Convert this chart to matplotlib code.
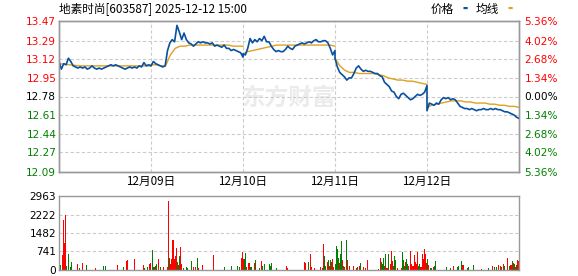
from matplotlib import pyplot as plt
import numpy as np

# price per day (5 trading days, evenly spaced samples over 240 min)
day1 = [13.10, 13.03, 13.08, 13.07, 13.13, 13.10, 13.06, 13.05, 13.04, 13.05,
        13.04, 13.05, 13.03, 13.04, 13.06, 13.04, 13.03, 13.04, 13.03, 13.04,
        13.05, 13.06, 13.07, 13.06, 13.07, 13.06, 13.05, 13.04, 13.03, 13.04,
        13.05, 13.04, 13.05, 13.04, 13.06, 13.05, 13.09, 13.06, 13.07, 13.06]
day2 = [13.06, 13.10, 13.08, 13.07, 13.06, 13.05, 13.06, 13.20, 13.27, 13.30,
        13.28, 13.43, 13.37, 13.30, 13.36, 13.30, 13.27, 13.26, 13.24, 13.26,
        13.28, 13.27, 13.28, 13.27, 13.27, 13.26, 13.27, 13.24, 13.25, 13.24,
        13.23, 13.25, 13.22, 13.22, 13.20, 13.21, 13.20, 13.19, 13.18, 13.14]
day3 = [13.17, 13.16, 13.22, 13.31, 13.27, 13.30, 13.28, 13.31, 13.29, 13.33,
        13.28, 13.28, 13.24, 13.21, 13.19, 13.20, 13.19, 13.19, 13.21, 13.24,
        13.22, 13.21, 13.24, 13.25, 13.26, 13.27, 13.26, 13.27, 13.28, 13.27,
        13.29, 13.30, 13.28, 13.28, 13.29, 13.29, 13.27, 13.22, 13.16, 13.20]
day4 = [13.13, 13.05, 13.00, 12.98, 12.96, 12.93, 12.95, 12.95, 12.99, 13.04,
        13.06, 13.03, 13.01, 13.02, 13.01, 13.01, 13.00, 12.99, 12.99, 12.97,
        12.96, 12.91, 12.89, 12.87, 12.83, 12.82, 12.78, 12.76, 12.80, 12.81,
        12.79, 12.77, 12.75, 12.76, 12.78, 12.80, 12.79, 12.80, 12.82, 12.88]
day5 = [12.65, 12.72, 12.71, 12.70, 12.72, 12.71, 12.75, 12.77, 12.76, 12.77,
        12.75, 12.76, 12.75, 12.72, 12.69, 12.68, 12.67, 12.67, 12.66, 12.67,
        12.66, 12.65, 12.66, 12.66, 12.67, 12.66, 12.66, 12.67, 12.66, 12.67,
        12.66, 12.66, 12.65, 12.64, 12.64, 12.63, 12.62, 12.61, 12.59, 12.58]

# average price per day
avg1 = [13.08, 13.07, 13.06, 13.06, 13.06, 13.06, 13.06, 13.06, 13.06, 13.06]
avg2 = [13.07, 13.07, 13.06, 13.06, 13.16, 13.22, 13.24, 13.24, 13.25, 13.25,
        13.25, 13.25, 13.25, 13.25, 13.25, 13.25, 13.25, 13.24, 13.24, 13.24]
avg3 = [13.17, 13.19, 13.20, 13.21, 13.22, 13.23, 13.24, 13.25, 13.25, 13.25,
        13.25, 13.25, 13.25, 13.25, 13.25, 13.25, 13.25, 13.25, 13.25, 13.24]
avg4 = [13.13, 13.06, 13.02, 13.00, 13.00, 12.99, 12.99, 12.99, 12.99, 12.98,
        12.97, 12.95, 12.94, 12.93, 12.93, 12.92, 12.92, 12.91, 12.90, 12.89]
avg5 = [12.68, 12.70, 12.71, 12.72, 12.73, 12.74, 12.74, 12.74, 12.73, 12.73,
        12.72, 12.72, 12.72, 12.71, 12.71, 12.70, 12.70, 12.69, 12.69, 12.68]

# volume bars: minute index, volume, up (1) / down (0)
vol_min = [0, 3, 8, 10, 13, 16, 18, 23, 29, 31, 47, 52, 60, 70, 94, 115, 120, 151, 167, 175,
           177, 196, 219, 222, 230, 235, 237, 243, 245, 248, 250, 253, 258, 263, 271, 282, 284, 287, 290, 292,
           295, 297, 300, 303, 305, 308, 310, 313, 316, 318, 323, 331, 334, 344, 350, 355, 360, 363, 373, 402,
           430, 449, 464, 470, 475, 477, 480, 483, 485, 488, 493, 496, 498, 501, 509, 511, 522, 527, 530, 535,
           548, 550, 553, 566, 592, 595,
           639, 642, 650, 655, 657, 665, 681, 686, 689, 691, 694, 699, 702, 704, 707, 710, 712, 715, 720, 723,
           725, 728, 730, 733, 736, 738, 741, 744, 749, 751, 757, 767, 775, 777, 783, 785, 793, 798, 804, 832,
           837, 840, 843, 845, 848, 850, 853, 856, 858, 864, 866, 869, 871, 874, 877, 882, 892, 895, 897, 900,
           903, 905, 908, 910, 916, 918, 921, 924, 926, 929, 931, 934, 937, 939, 942, 944, 947, 950, 952, 955,
           957, 960, 963, 968, 970, 976, 978, 981, 1010, 1020, 1028, 1038, 1041, 1049, 1051, 1054, 1064, 1067, 1080, 1101,
           1119, 1130, 1135, 1140, 1145, 1150, 1153, 1158, 1161, 1169, 1174, 1177, 1179, 1182, 1184, 1187, 1190, 1192, 1195, 1197]
vol_val = [432, 190, 594, 2011, 1066, 2214, 162, 660, 120, 324, 256, 80, 270, 190, 80, 150, 150, 190, 120, 350,
           390, 432, 190, 100, 120, 256, 283, 796, 120, 120, 162, 230, 432, 120, 120, 120, 2754, 486, 230, 432,
           1200, 1200, 432, 553, 864, 324, 220, 553, 930, 230, 80, 120, 100, 350, 120, 120, 486, 80, 190, 620,
           120, 150, 150, 120, 486, 730, 460, 432, 690, 120, 270, 270, 120, 120, 270, 390, 80, 350, 162, 230,
           256, 162, 270, 80, 150, 100,
           324, 270, 324, 660, 120, 80, 120, 80, 1040, 553, 162, 324, 390, 150, 390, 324, 432, 120, 256, 960,
           837, 486, 297, 634, 1160, 390, 162, 120, 1200, 390, 150, 150, 100, 120, 150, 270, 120, 80, 390, 60,
           486, 324, 230, 486, 150, 660, 80, 80, 634, 230, 756, 350, 150, 553, 390, 80, 80, 729, 390, 150,
           324, 459, 230, 150, 756, 256, 150, 150, 594, 324, 256, 730, 150, 230, 120, 120, 660, 459, 837, 634,
           270, 432, 190, 80, 80, 120, 150, 350, 120, 80, 150, 120, 150, 350, 190, 190, 80, 120, 190, 60,
           80, 150, 120, 120, 190, 150, 120, 230, 150, 486, 150, 190, 190, 350, 283, 256, 120, 190, 390, 370]
vol_up = [1, 0, 1, 1, 1, 1, 0, 0, 0, 0, 1, 0, 1, 0, 1, 0, 0, 1, 0, 1,
          1, 1, 1, 0, 0, 1, 1, 0, 0, 1, 0, 0, 1, 0, 1, 1, 1, 0, 1, 1,
          1, 1, 1, 1, 1, 0, 1, 0, 1, 1, 0, 0, 0, 0, 1, 1, 0, 1, 1, 1,
          0, 0, 0, 0, 1, 1, 1, 0, 0, 1, 1, 1, 0, 0, 1, 0, 0, 1, 0, 0,
          0, 0, 0, 0, 1, 1,
          1, 1, 0, 1, 1, 1, 1, 0, 1, 0, 0, 1, 0, 1, 0, 1, 1, 1, 0, 0,
          0, 0, 1, 0, 0, 1, 0, 1, 0, 1, 1, 1, 1, 0, 1, 0, 1, 1, 1, 1,
          1, 0, 0, 0, 1, 0, 1, 1, 0, 1, 1, 1, 0, 0, 0, 1, 1, 0, 0, 0,
          1, 0, 0, 1, 1, 1, 1, 1, 1, 1, 1, 1, 0, 0, 1, 1, 1, 1, 1, 1,
          1, 0, 1, 0, 0, 1, 0, 0, 0, 0, 1, 0, 0, 0, 1, 1, 0, 0, 0, 1,
          0, 1, 0, 0, 1, 1, 0, 1, 0, 1, 0, 1, 1, 0, 1, 0, 1, 0, 1, 1]

price_ticks = [12.09, 12.27, 12.44, 12.61, 12.78, 12.95, 13.12, 13.29, 13.47]
left_labels = ['12.09', '12.27', '12.44', '12.61', '12.78', '12.95', '13.12', '13.29', '13.47']
right_labels = ['5.36%', '4.02%', '2.68%', '1.34%', '0.00%', '1.34%', '2.68%', '4.02%', '5.36%']
date_labels = ['12月09日', '12月10日', '12月11日', '12月12日']
vol_ticks = [0, 741, 1482, 2222, 2963]

pre_close = 12.78
title = '地素时尚[603587] 2025-12-12 15:00'

cjk = ['Noto Sans CJK SC', 'DejaVu Sans']
RED = '#ff0000'
GREEN = '#008000'
BLUE = '#0a50a0'
GOLD = '#e0a020'
SPINE = '#999999'
GRID = '#cccccc'

fig = plt.figure(figsize=(5.78, 2.76), dpi=100)
ax = fig.add_axes([59/578, 1-172/276, 460/578, 151/276])
axv = fig.add_axes([59/578, 1-270/276, 460/578, 74/276])

# price + average lines
days = [day1, day2, day3, day4, day5]
avgs = [avg1, avg2, avg3, avg4, avg5]
px_all = []
py_all = []
for d in range(5):
    n = len(days[d])
    px_all += list(d*240 + np.arange(n)*240/(n-1))
    py_all += days[d]
ax.plot(px_all, py_all, color=BLUE, lw=1.2, zorder=4)
for d in range(5):
    n = len(avgs[d])
    ax.plot(d*240 + np.arange(n)*240/(n-1), avgs[d], color=GOLD, lw=1.0, zorder=3)

ax.set_xlim(0, 1200)
lo = pre_close - (price_ticks[-1] - pre_close)
ax.set_ylim(price_ticks[0], price_ticks[-1])
ax.set_yticks(price_ticks)
ax.set_yticklabels(left_labels)
ax.set_xticks([240, 480, 720, 960])
ax.set_xticklabels(date_labels, family=cjk, fontsize=8.4)
ax.tick_params(axis='x', length=0, pad=2)
ax.tick_params(axis='y', length=0, pad=2, labelsize=7.6)
for lab, v in zip(ax.get_yticklabels(), price_ticks):
    lab.set_color(RED if v > pre_close + 0.001 else (GREEN if v < pre_close - 0.001 else 'black'))
ax.grid(True, color=GRID, ls=(0, (3, 2)), lw=0.8)

axr = ax.twinx()
axr.set_ylim(price_ticks[0], price_ticks[-1])
axr.set_yticks(price_ticks)
axr.set_yticklabels(right_labels)
axr.tick_params(axis='y', length=0, pad=4, labelsize=7.6)
for lab, v in zip(axr.get_yticklabels(), price_ticks):
    lab.set_color(RED if v > pre_close + 0.001 else (GREEN if v < pre_close - 0.001 else 'black'))

for a in [ax, axr, axv]:
    for s in a.spines.values():
        s.set_color(SPINE)
        s.set_linewidth(1.0)

# watermark
ax.text(0.50, 0.49, '东方财富', transform=ax.transAxes, family=cjk, fontsize=17,
        fontweight='bold', color='#ebebeb', ha='center', va='center', zorder=1)

# volume
vol_min = np.array(vol_min)
vol_val = np.array(vol_val)
vol_up = np.array(vol_up)
colors = [RED if u else GREEN for u in vol_up]
axv.bar(vol_min, vol_val, width=2.0, color=colors, linewidth=0, align='edge')
axv.set_xlim(0, 1200)
axv.set_ylim(0, vol_ticks[-1])
axv.set_yticks(vol_ticks)
axv.set_yticklabels([str(v) for v in vol_ticks])
axv.set_xticks([])
axv.tick_params(axis='y', length=0, pad=2, labelsize=7.6)
axv.yaxis.grid(True, color=GRID, ls=(0, (3, 2)), lw=0.8)
axv.set_axisbelow(True)

# title and legend
fig.text(59/578, 1-9/276, title, family=cjk, fontsize=8.4, ha='left', va='center')
fig.text(431/578, 1-9/276, '价格', family=cjk, fontsize=8.4, ha='left', va='center')
fig.text(463/578, 1-8/276, '▬', color=BLUE, fontsize=4, ha='left', va='center')
fig.text(476/578, 1-9/276, '均线', family=cjk, fontsize=8.4, ha='left', va='center')
fig.text(508/578, 1-8/276, '▬', color=GOLD, fontsize=4, ha='left', va='center')

plt.savefig('out.png', dpi=100)
